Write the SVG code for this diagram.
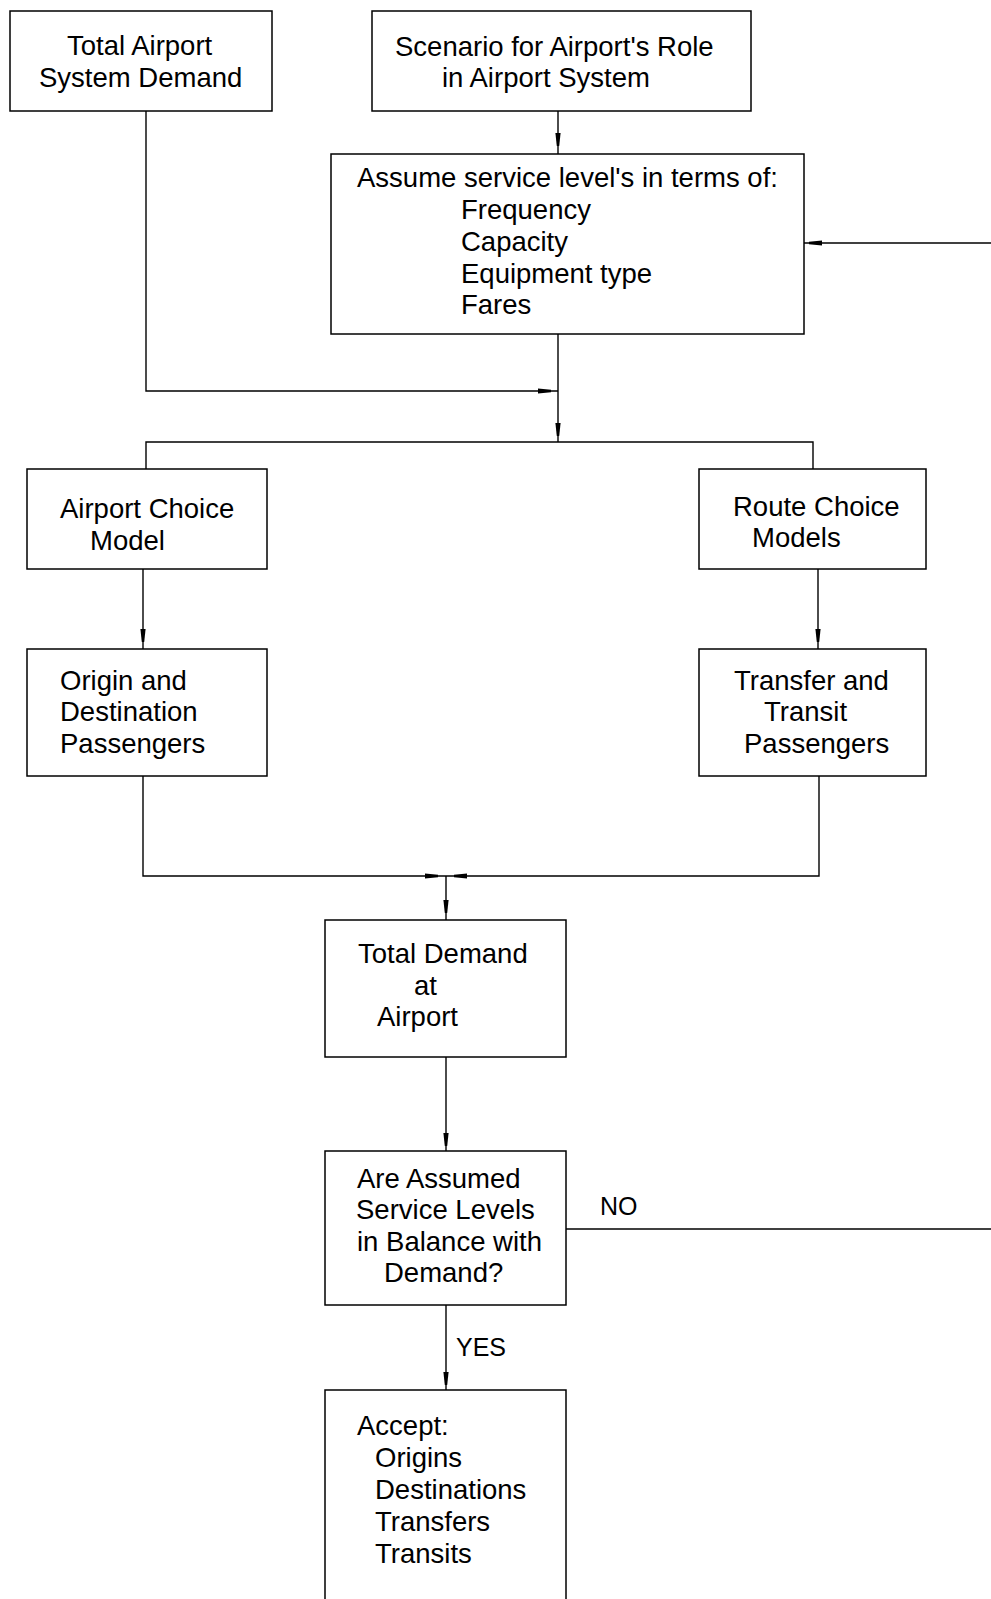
<svg xmlns="http://www.w3.org/2000/svg" xmlns:xlink="http://www.w3.org/1999/xlink" width="991" height="1599" viewBox="0 0 991 1599">
<style>
  .box { fill: #ffffff; stroke: #000000; stroke-width: 1.5; }
  .ln { fill: none; stroke: #000000; stroke-width: 1.4; }
  .t { font-family: "Liberation Sans", Arial, sans-serif; font-size: 27.5px; fill: #000000; }
  .lbl { font-family: "Liberation Sans", Arial, sans-serif; font-size: 25px; fill: #000000; }
</style>
<defs>
  <path id="ah" d="M-2.6,-7 L2.6,-7 L1.2,6 L-1.2,6 Z" fill="#000000"/>
</defs>
<rect width="991" height="1599" fill="#ffffff"/>

<g id="connectors">
  <path class="ln" d="M558,111 V154"/>
  <use xlink:href="#ah" transform="translate(558,140)"/>
  <path class="ln" d="M146,111 V391 H558"/>
  <use xlink:href="#ah" transform="translate(545,391) rotate(-90)"/>
  <path class="ln" d="M558,334 V442"/>
  <use xlink:href="#ah" transform="translate(558,430)"/>
  <path class="ln" d="M146,469 V442 H813 V469"/>
  <path class="ln" d="M143,569 V649"/>
  <use xlink:href="#ah" transform="translate(143,636)"/>
  <path class="ln" d="M818,569 V649"/>
  <use xlink:href="#ah" transform="translate(818,636)"/>
  <path class="ln" d="M143,776 V876 H819 V776"/>
  <use xlink:href="#ah" transform="translate(432,876) rotate(-90)"/>
  <use xlink:href="#ah" transform="translate(460,876) rotate(90)"/>
  <path class="ln" d="M446,876 V920"/>
  <use xlink:href="#ah" transform="translate(446,907)"/>
  <path class="ln" d="M446,1057 V1151"/>
  <use xlink:href="#ah" transform="translate(446,1140)"/>
  <path class="ln" d="M446,1305 V1390"/>
  <use xlink:href="#ah" transform="translate(446,1379)"/>
  <path class="ln" d="M566,1229 H991"/>
  <path class="ln" d="M991,243 H804"/>
  <use xlink:href="#ah" transform="translate(815,243) rotate(90)"/>
  <text class="lbl" x="600" y="1215">NO</text>
  <text class="lbl" x="456" y="1356">YES</text>
</g>

<g id="n-total-system-demand">
  <rect class="box" x="10" y="11" width="262" height="100"/>
  <text class="t" x="67" y="55">Total Airport</text>
  <text class="t" x="39" y="87">System Demand</text>
</g>

<g id="n-scenario">
  <rect class="box" x="372" y="11" width="379" height="100"/>
  <text class="t" x="395" y="56">Scenario for Airport's Role</text>
  <text class="t" x="442" y="87">in Airport System</text>
</g>

<g id="n-assume-service">
  <rect class="box" x="331" y="154" width="473" height="180"/>
  <text class="t" x="357" y="187">Assume service level's in terms of:</text>
  <text class="t" x="461" y="219">Frequency</text>
  <text class="t" x="461" y="251">Capacity</text>
  <text class="t" x="461" y="283">Equipment type</text>
  <text class="t" x="461" y="314">Fares</text>
</g>

<g id="n-airport-choice">
  <rect class="box" x="27" y="469" width="240" height="100"/>
  <text class="t" x="60" y="518">Airport Choice</text>
  <text class="t" x="90" y="550">Model</text>
</g>

<g id="n-route-choice">
  <rect class="box" x="699" y="469" width="227" height="100"/>
  <text class="t" x="733" y="516">Route Choice</text>
  <text class="t" x="752" y="547">Models</text>
</g>

<g id="n-od-passengers">
  <rect class="box" x="27" y="649" width="240" height="127"/>
  <text class="t" x="60" y="690">Origin and</text>
  <text class="t" x="60" y="721">Destination</text>
  <text class="t" x="60" y="753">Passengers</text>
</g>

<g id="n-transfer-passengers">
  <rect class="box" x="699" y="649" width="227" height="127"/>
  <text class="t" x="734" y="690">Transfer and</text>
  <text class="t" x="764" y="721">Transit</text>
  <text class="t" x="744" y="753">Passengers</text>
</g>

<g id="n-total-demand">
  <rect class="box" x="325" y="920" width="241" height="137"/>
  <text class="t" x="358" y="963">Total Demand</text>
  <text class="t" x="414" y="995">at</text>
  <text class="t" x="377" y="1026">Airport</text>
</g>

<g id="n-balance-check">
  <rect class="box" x="325" y="1151" width="241" height="154"/>
  <text class="t" x="357" y="1188">Are Assumed</text>
  <text class="t" x="356" y="1219">Service Levels</text>
  <text class="t" x="357" y="1251">in Balance with</text>
  <text class="t" x="384" y="1282">Demand?</text>
</g>

<g id="n-accept">
  <rect class="box" x="325" y="1390" width="241" height="230"/>
  <text class="t" x="357" y="1435">Accept:</text>
  <text class="t" x="375" y="1467">Origins</text>
  <text class="t" x="375" y="1499">Destinations</text>
  <text class="t" x="375" y="1531">Transfers</text>
  <text class="t" x="375" y="1563">Transits</text>
</g>
</svg>
